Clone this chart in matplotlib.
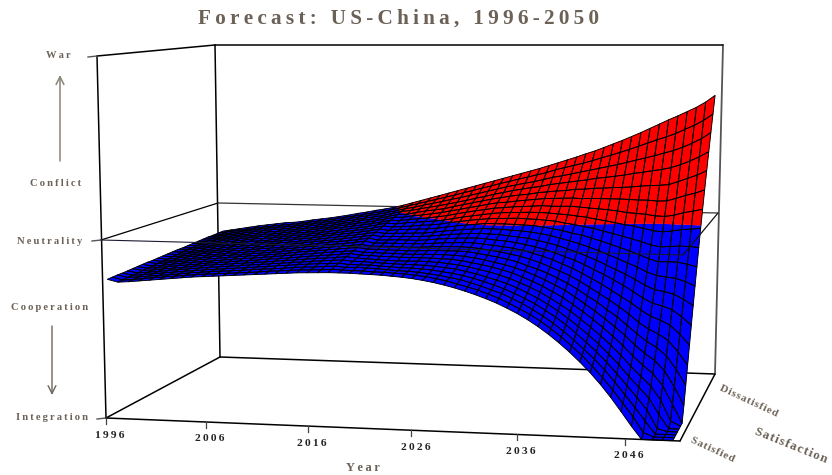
import numpy as np
import matplotlib
matplotlib.use("Agg")
import matplotlib.pyplot as plt
from matplotlib.collections import PolyCollection

title = "Forecast: US-China, 1996-2050"
year_ticks = [1996, 2006, 2016, 2026, 2036, 2046]
level_labels = ["War", "Conflict", "Neutrality", "Cooperation", "Integration"]

# surface years, each list below runs from Satisfied to Dissatisfied
# height in thousandths: 0 = Integration, 500 = Neutrality, 1000 = War
surface_years = [1996.5 + i for i in range(55)]
z_by_year = [
	[390,391,392,392,393,394,395,396,397,397,398,399,400,401,402,402,403,404,405,406,407,407,408,409],
	[383,384,386,387,388,390,391,392,394,395,396,398,399,401,402,403,405,406,407,409,410,411,413,414],
	[385,386,388,389,391,392,394,395,397,398,400,401,403,404,406,407,409,410,412,413,415,416,418,419],
	[388,390,391,393,394,396,397,399,401,402,404,405,407,408,410,411,413,415,416,418,419,421,422,424],
	[391,393,394,396,398,399,401,403,404,406,408,409,411,412,414,416,417,419,421,422,424,426,427,429],
	[394,396,397,399,401,402,404,406,408,409,411,413,414,416,418,419,421,423,425,426,428,430,431,433],
	[397,399,400,402,404,406,407,409,411,413,414,416,418,420,421,423,425,427,428,430,432,434,435,437],
	[400,402,404,405,407,409,411,412,414,416,418,420,421,423,425,427,429,430,432,434,436,437,439,441],
	[403,405,406,408,410,412,413,415,417,419,420,422,424,426,427,429,431,433,434,436,438,440,441,443],
	[405,407,409,410,412,414,416,418,420,421,423,425,427,429,431,432,434,436,438,440,442,443,445,447],
	[407,409,411,413,415,417,419,421,423,425,427,429,430,432,434,436,438,440,442,444,446,448,450,452],
	[409,411,413,415,417,419,421,423,425,427,429,431,434,436,438,440,442,444,446,448,450,452,454,456],
	[411,413,415,417,420,422,424,426,428,430,432,434,437,439,441,443,445,447,449,451,454,456,458,460],
	[413,415,418,420,422,424,427,429,431,433,436,438,440,442,445,447,449,451,454,456,458,461,463,465],
	[415,417,420,422,425,427,429,432,434,437,439,441,444,446,448,451,453,456,458,460,463,465,468,470],
	[417,420,422,425,427,430,432,435,438,440,443,445,448,450,453,455,458,461,463,466,468,471,473,476],
	[419,422,424,427,430,432,435,438,441,443,446,449,451,454,457,459,462,465,468,470,473,476,478,481],
	[421,424,427,430,432,435,438,441,444,447,450,453,455,458,461,464,467,470,473,476,478,481,484,487],
	[423,426,429,432,435,438,441,444,447,450,453,456,459,462,465,468,471,474,477,480,483,486,489,492],
	[424,427,430,434,437,440,443,447,450,453,456,459,463,466,469,472,475,479,482,485,488,492,495,498],
	[425,428,432,435,439,442,446,449,453,456,460,463,467,470,474,477,481,484,488,491,495,498,502,505],
	[426,430,434,437,441,445,449,452,456,460,464,468,471,475,479,483,487,490,494,498,502,505,509,513],
	[426,429,431,434,438,442,445,448,452,455,459,463,468,472,476,481,485,490,495,499,505,510,516,521],
	[426,428,432,434,438,441,445,448,452,456,460,464,469,473,479,483,489,494,500,505,511,517,523,529],
	[425,428,431,434,436,439,443,447,451,456,460,465,469,474,480,485,491,497,503,510,516,523,530,537],
	[424,426,430,432,435,438,443,447,451,455,460,465,470,475,482,488,494,500,507,514,521,529,537,545],
	[423,426,428,431,434,437,442,446,450,455,460,465,471,476,483,490,496,504,511,518,527,536,544,553],
	[421,424,426,429,433,437,442,446,451,456,461,467,473,479,486,493,500,508,517,525,533,542,552,561],
	[419,423,425,429,433,438,442,447,452,458,463,470,476,483,490,498,505,514,522,531,539,549,559,569],
	[416,420,423,427,432,437,442,447,453,459,465,472,479,486,494,502,510,519,528,537,546,556,567,577],
	[412,417,420,425,430,436,441,447,453,460,466,474,481,489,497,506,514,524,533,543,552,563,574,585],
	[407,412,416,421,427,433,440,446,453,460,467,475,483,491,500,509,518,528,539,549,559,570,582,593],
	[401,407,411,417,424,430,437,444,452,459,467,476,484,493,503,512,522,533,544,554,565,577,589,601],
	[394,399,406,412,418,425,432,440,448,456,464,474,483,493,503,513,525,535,546,559,571,583,596,609],
	[386,392,398,405,412,419,427,435,443,452,461,471,482,492,503,514,526,538,550,563,576,589,603,617],
	[377,384,390,397,404,413,421,429,439,448,458,469,479,490,502,515,527,539,553,566,581,594,610,625],
	[367,374,380,388,396,405,414,423,433,442,454,465,476,489,501,514,528,541,556,571,585,601,617,634],
	[356,363,371,378,387,396,406,415,426,437,449,460,473,486,500,513,528,543,559,574,591,608,626,643],
	[343,350,358,366,376,385,395,406,416,429,441,454,467,482,496,511,527,542,560,577,595,613,633,652],
	[329,336,345,353,363,373,384,395,407,420,433,447,461,477,492,509,525,542,561,579,599,619,640,661],
	[313,321,329,339,349,360,371,383,396,409,424,438,454,470,487,504,523,543,562,583,603,625,647,671],
	[295,304,312,322,333,344,356,369,383,397,412,428,445,463,480,500,520,541,561,584,607,631,655,680],
	[275,284,293,304,315,327,341,355,369,385,401,418,436,455,475,495,517,539,562,587,612,637,664,691],
	[253,263,272,284,295,309,322,337,353,370,387,406,425,446,467,490,512,537,562,588,615,643,672,702],
	[229,239,249,261,274,288,303,318,335,353,372,392,414,436,459,483,508,535,562,590,619,649,681,713],
	[203,214,224,237,251,266,282,299,318,336,357,379,401,425,450,476,503,532,562,591,623,656,690,725],
	[175,186,199,212,227,243,260,278,297,319,340,364,388,414,441,469,498,528,561,593,628,663,700,737],
	[144,156,170,184,200,218,236,256,278,300,323,349,375,402,432,462,494,526,560,596,632,670,710,750],
	[110,123,138,154,172,191,211,233,255,280,306,332,361,391,421,454,488,524,560,598,637,677,720,763],
	[73,88,104,122,140,161,183,207,232,257,286,314,345,377,410,445,482,520,558,599,641,685,729,776],
	[35,52,70,90,111,134,158,184,211,239,269,300,333,368,402,440,479,519,559,602,647,693,739,788],
	[0,11,34,57,82,108,136,165,195,226,259,293,328,364,403,442,482,523,567,611,656,703,752,801],
	[0,0,0,7,38,70,103,137,172,208,245,283,321,361,402,444,487,531,576,621,667,715,764,814],
	[0,0,0,0,0,13,52,93,135,177,220,263,307,352,397,443,489,536,583,631,680,729,779,830],
	[0,0,0,0,0,0,0,42,91,140,190,240,290,340,390,441,492,542,593,644,695,747,798,850],
]

year_min = 1996
year_max = 2051.2
ink = "#6b6156"
serif = "Liberation Serif"

# box corners on the page: front-left, front-right, back-left, back-right
floor_px = np.array([[106, 418], [680, 441], [220, 357], [715, 374]], float)
neutral_px = np.array([[101, 240], [683, 255], [218, 203], [718, 213]], float)
roof_px = np.array([[97, 56], [686, 65], [215, 45], [723, 45]], float)


def project(year, sat, z):
	u = (np.asarray(year, float) - year_min) / (year_max - year_min)
	v = np.asarray(sat, float)
	z = np.asarray(z, float) / 1000.0
	out = []
	for k in range(2):
		def plane(c):
			front = c[0, k] + (c[1, k] - c[0, k]) * u
			back = c[2, k] + (c[3, k] - c[2, k]) * u
			return front + (back - front) * v
		low = plane(floor_px) + (plane(neutral_px) - plane(floor_px)) * (z / 0.5)
		high = plane(neutral_px) + (plane(roof_px) - plane(neutral_px)) * ((z - 0.5) / 0.5)
		out.append(np.where(z < 0.5, low, high))
	return out[0], out[1]


def tick_year(yr):
	# ticks bunch toward the far end of the axis
	t = (yr - 1996) / 55.0
	return year_min + (year_max - year_min) * t / (t + (1 - t) * 1.056)


def spaced(s, sep="\u2009"):
	return sep.join(s)


def edge(p, q, zorder=1, color="black", lw=1.1):
	xs, ys = project([p[0], q[0]], [p[1], q[1]], [p[2], q[2]])
	ax.plot(xs, ys, color=color, lw=lw, zorder=zorder, solid_capstyle="round")


def split_cell(ys_, ss_, zs_):
	# cut one cell where it crosses the neutrality level
	blue = []
	red = []
	for k in range(4):
		a = (ys_[k], ss_[k], zs_[k])
		b = (ys_[(k + 1) % 4], ss_[(k + 1) % 4], zs_[(k + 1) % 4])
		(red if a[2] > 500 else blue).append(a)
		if (a[2] > 500) != (b[2] > 500):
			f = (500 - a[2]) / (b[2] - a[2])
			cross = (a[0] + (b[0] - a[0]) * f, a[1] + (b[1] - a[1]) * f, 500.0)
			blue.append(cross)
			red.append(cross)
	return blue, red


fig = plt.figure(figsize=(8.32, 4.75), dpi=100)
ax = fig.add_axes([0, 0, 1, 1])
ax.set_xlim(0, 832)
ax.set_ylim(475, 0)
ax.axis("off")

# box behind the surface
edge((year_min, 0, 0), (year_max, 0, 0), zorder=4)
edge((year_min, 0, 0), (year_min, 1, 0))
edge((year_min, 1, 0), (year_max, 1, 0))
edge((year_max, 0, 0), (year_max, 1, 0), zorder=4)
edge((year_min, 0, 0), (year_min, 0, 1000))
edge((year_min, 1, 0), (year_min, 1, 1000))
edge((year_max, 1, 0), (year_max, 1, 1000), color="#555555", lw=1.3)
edge((year_min, 0, 1000), (year_min, 1, 1000))
edge((year_min, 1, 1000), (year_max, 1, 1000))
edge((year_min, 0, 500), (year_min, 1, 500), lw=0.9)
edge((year_min, 1, 500), (year_max, 1, 500), lw=0.9, color="#333333")

# surface, back rows first so nearer cells cover farther ones
z_grid = np.array(z_by_year, float)
n_year, n_sat = z_grid.shape
sat_grid = np.array([j / (n_sat - 1) for j in range(n_sat)])
year_grid = np.array(surface_years)
fills = []
faces = []
cells = []
for j in range(n_sat - 2, -1, -1):
	for i in range(n_year - 1):
		ys_ = [year_grid[i], year_grid[i + 1], year_grid[i + 1], year_grid[i]]
		ss_ = [sat_grid[j], sat_grid[j], sat_grid[j + 1], sat_grid[j + 1]]
		zs_ = [z_grid[i, j], z_grid[i + 1, j], z_grid[i + 1, j + 1], z_grid[i, j + 1]]
		px, py = project(ys_, ss_, zs_)
		cells.append(np.column_stack([px, py]))
		blue, red = split_cell(ys_, ss_, zs_)
		for part, colour in ((blue, "#0000ff"), (red, "#ff0000")):
			if len(part) > 2:
				pts = np.array(part)
				qx, qy = project(pts[:, 0], pts[:, 1], pts[:, 2])
				fills.append(np.column_stack([qx, qy]))
				faces.append(colour)
ax.add_collection(PolyCollection(fills, facecolors=faces, edgecolors=faces, linewidths=0.2, zorder=2))
ax.add_collection(PolyCollection(cells, facecolors="none", edgecolors="black", linewidths=0.65, zorder=2.1))

# neutrality edges in front of the surface
edge((year_min, 0, 500), (year_max, 0, 500), zorder=3, lw=0.8, color="#1a1a33")
edge((year_max, 0, 500), (year_max, 1, 500), zorder=3, lw=0.9, color="#111111")

# ticks and labels
for yr in year_ticks:
	x0, y0 = project(tick_year(yr), 0, 0)
	ax.plot([x0, x0], [y0, y0 + 6], color="#444444", lw=0.9, zorder=4)
	ax.text(x0 + 4, y0 + 17, spaced(str(yr)), family=serif, weight="bold", fontsize=8.2,
		color="#222222", ha="center", va="center")

level_x = [58, 56, 50, 50, 52]
level_y = [56, 184, 241, 308, 417]
for s, x, y in zip(level_labels, level_x, level_y):
	ax.text(x, y, spaced(s), family=serif, weight="bold", fontsize=7.6, color=ink, ha="center", va="center")
for z in [1000, 500, 0]:
	x0, y0 = project(year_min, 0, z)
	ax.plot([x0 - 9, x0], [y0 + 1, y0], color="#555555", lw=1.0, zorder=1)

ax.annotate("", xy=(60, 75), xytext=(60, 161), arrowprops=dict(arrowstyle="->", color="#8a8378", lw=1.1, mutation_scale=14, shrinkA=0, shrinkB=0))
ax.annotate("", xy=(52, 395), xytext=(52, 326), arrowprops=dict(arrowstyle="->", color="#6e655b", lw=1.0, mutation_scale=14, shrinkA=0, shrinkB=0))

ax.text(399, 19, spaced(title), family=serif, weight="bold", fontsize=15.3, color=ink, ha="center", va="center")
ax.text(363, 468, spaced("Year"), family=serif, weight="bold", fontsize=9, color=ink, ha="center", va="center")
ax.text(712, 450, spaced("Satisfied", "\u200a"), family=serif, weight="bold", fontsize=7.8, color=ink, ha="center", va="center",
	rotation=-25, rotation_mode="anchor")
ax.text(749, 401, spaced("Dissatisfied", "\u200a"), family=serif, weight="bold", fontsize=7.8, color=ink, ha="center", va="center",
	rotation=-25, rotation_mode="anchor")
ax.text(791, 446, spaced("Satisfaction", "\u200a"), family=serif, weight="bold", fontsize=9.4, color=ink, ha="center", va="center",
	rotation=-22, rotation_mode="anchor")

fig.savefig("out.png", dpi=100)
